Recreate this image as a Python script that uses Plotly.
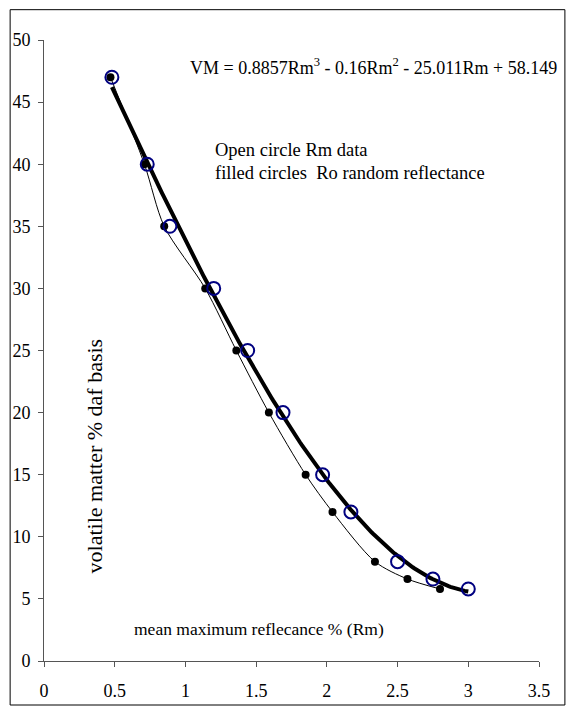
import plotly.graph_objects as go
import numpy as np

# ---- data ----
vm_values = [47, 40, 35, 30, 25, 20, 15, 12, 8, 6.6, 5.8]
rm_open = [0.48, 0.73, 0.89, 1.20, 1.44, 1.69, 1.97, 2.17, 2.50, 2.75, 3.00]
ro_filled = [0.47, 0.71, 0.85, 1.14, 1.36, 1.59, 1.85, 2.04, 2.34, 2.57, 2.80]
trend_coeffs = [0.8857, -0.16, -25.011, 58.149]  # from the equation shown on the chart
x_ticks = [0, 0.5, 1, 1.5, 2, 2.5, 3, 3.5]
y_ticks = [0, 5, 10, 15, 20, 25, 30, 35, 40, 45, 50]

W, H = 566, 713
L, R, T, B = 42, 27, 40, 38
PW, PH = W - L - R, H - T - B


def px(x):
    return (x - L) / PW


def py(y):
    return (H - B - y) / PH


FONT = "Liberation Serif, Times New Roman, serif"

fig = go.Figure()

# trendline (thick)
tx = np.linspace(min(rm_open), max(rm_open), 200)
ty = np.polyval(trend_coeffs, tx)
fig.add_trace(go.Scatter(x=tx, y=ty, mode="lines",
                         line=dict(color="black", width=4), hoverinfo="skip"))

# filled circles Ro with thin smoothed line
fig.add_trace(go.Scatter(x=ro_filled, y=vm_values, mode="lines+markers",
                         line=dict(color="black", width=1, shape="spline", smoothing=0.8),
                         marker=dict(color="black", size=8)))

# open circles Rm
fig.add_trace(go.Scatter(x=rm_open, y=vm_values, mode="markers",
                         marker=dict(color="#000080", size=13, symbol="circle-open",
                                     line=dict(color="#000080", width=2))))

axis_common = dict(showgrid=False, zeroline=False, showline=True, linecolor="#555",
                   linewidth=1, ticks="outside", ticklen=5, tickcolor="#555",
                   tickfont=dict(family=FONT, size=18, color="black"))

fig.update_xaxes(range=[0, 3.5], tickvals=x_ticks, ticklabelstandoff=8, **axis_common)
fig.update_yaxes(range=[0, 50], tickvals=y_ticks, ticklabelstandoff=4, **axis_common)


def f(size):
    return dict(family=FONT, size=size, color="black")


annotations = [
    dict(text="VM = 0.8857Rm<sup>3</sup> - 0.16Rm<sup>2</sup> - 25.011Rm + 58.149",
         x=px(559), y=py(67), xanchor="right", yanchor="middle", font=f(18)),
    dict(text="Open circle Rm data", x=px(212), y=py(152), xanchor="left",
         yanchor="middle", font=f(18.5)),
    dict(text="filled circles\u00a0\u00a0Ro random reflectance", x=px(212), y=py(176),
         xanchor="left", yanchor="middle", font=f(18.5)),
    dict(text="mean maximum reflecance % (Rm)", x=px(385), y=py(642),
         xanchor="right", yanchor="middle", font=f(17.5)),
    dict(text="volatile matter % daf basis", x=px(93), y=py(465), textangle=-90,
         xanchor="center", yanchor="middle", font=f(22)),
]
for a in annotations:
    a.update(xref="paper", yref="paper", showarrow=False)

fig.update_layout(
    width=W, height=H, margin=dict(l=L, r=R, t=T, b=B, pad=0),
    paper_bgcolor="white", plot_bgcolor="white", showlegend=False,
    annotations=annotations,
    shapes=[dict(type="rect", xref="paper", yref="paper",
                 x0=px(8), x1=px(565), y0=py(720), y1=py(9),
                 line=dict(color="black", width=1), layer="below")],
)

fig.write_html("out.html")
